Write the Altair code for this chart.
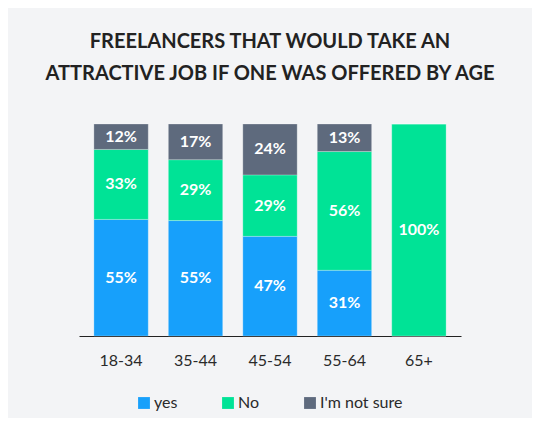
import altair as alt
import pandas as pd

ages = ["18-34", "35-44", "45-54", "55-64", "65+"]
yes_vals = [55, 55, 47, 31, 0]
no_vals = [33, 29, 29, 56, 100]
unsure_vals = [12, 17, 24, 13, 0]
series = ["yes", "No", "I'm not sure"]
colors = ["#17a0fb", "#00e396", "#5e6a7d"]
title_lines = ["FREELANCERS THAT WOULD TAKE AN", "ATTRACTIVE JOB IF ONE WAS OFFERED BY AGE"]

rows = []
for i, a in enumerate(ages):
    for k, vals in enumerate([yes_vals, no_vals, unsure_vals]):
        rows.append({"age": a, "series": series[k], "value": vals[i], "order": k})
df = pd.DataFrame(rows)

FONT = "Lato"

base = alt.Chart(df).transform_stack(
    stack="value", groupby=["age"], as_=["v0", "v1"], offset="normalize",
    sort=[alt.SortField("order", order="ascending")]
).transform_calculate(mid="(datum.v0 + datum.v1) / 2", label="datum.value + '%'")

x = alt.X("age:N", sort=ages, title=None,
          scale=alt.Scale(paddingInner=0.27, paddingOuter=0.2),
          axis=alt.Axis(labelAngle=0, ticks=False, domainColor="#222222", domainWidth=1.2,
                        labelFontSize=16, labelColor="#2a2a2a", labelFont=FONT, labelPadding=16))

bars = base.mark_bar(stroke="#ffffff", strokeOpacity=0.25, strokeWidth=1).encode(
    x=x,
    y=alt.Y("v0:Q", scale=alt.Scale(domain=[0, 1]), axis=None),
    y2="v1:Q",
    color=alt.Color("series:N", scale=alt.Scale(domain=series, range=colors),
                    legend=alt.Legend(title=None, orient="none", legendX=57, legendY=271,
                                      direction="horizontal", symbolType="square", symbolSize=140,
                                      symbolStrokeWidth=0, labelFontSize=16, labelFont=FONT,
                                      labelColor="#2a2a2a", columnPadding=42, labelOffset=2)),
)

text = base.transform_filter("datum.value > 0").mark_text(
    color="white", fontWeight="bold", fontSize=16, font=FONT
).encode(x=x, y=alt.Y("mid:Q", scale=alt.Scale(domain=[0, 1]), axis=None), text="label:N")

chart = alt.layer(bars, text).properties(
    width=382, height=212,
    title=alt.TitleParams(title_lines, fontSize=20, fontWeight="bold", color="#222222",
                          font=FONT, lineHeight=32, offset=40, anchor="middle"),
    autosize=alt.AutoSizeParams(type="none"),
    padding={"left": 71, "top": 116, "right": 71, "bottom": 82},
    background="#f3f4f6",
).configure_view(stroke=None)

chart.save("out.html", embed_options={"renderer": "svg", "actions": False})
